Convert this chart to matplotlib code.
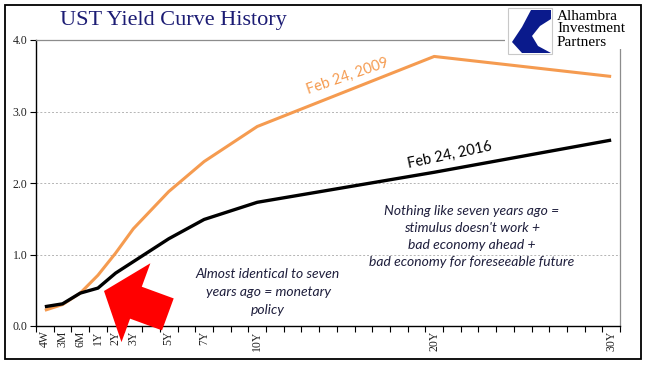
import numpy as np
import matplotlib
matplotlib.use("Agg")
import matplotlib.pyplot as plt
from matplotlib.patches import Rectangle, Polygon
from matplotlib.transforms import Affine2D

# --- data -------------------------------------------------------------------
categories = ["4W", "3M", "6M"] + [f"{y}Y" for y in range(1, 31)]
tenors = ["4W", "3M", "6M", "1Y", "2Y", "3Y", "5Y", "7Y", "10Y", "20Y", "30Y"]
yld_2009 = [0.22, 0.30, 0.46, 0.71, 1.02, 1.36, 1.88, 2.30, 2.79, 3.77, 3.49]
yld_2016 = [0.27, 0.31, 0.46, 0.53, 0.74, 0.90, 1.22, 1.49, 1.73, 2.15, 2.60]
yticks = [0.0, 1.0, 2.0, 3.0, 4.0]

W, H = 652, 381
ORANGE = "#F59B50"
NAVY = "#1c1c74"
NOTE = "#1e1e3c"
SERIF = "Liberation Serif"
SANS = "Lato"

fig = plt.figure(figsize=(W / 100, H / 100), dpi=100)
px = Affine2D().scale(1 / W, -1 / H).translate(0, 1) + fig.transFigure   # pixel coords, y down

ax = fig.add_axes([36 / W, 1 - 326 / H, (620 - 36) / W, (326 - 40) / H])
xpos = [categories.index(t) for t in tenors]
ax.plot(xpos, yld_2009, color=ORANGE, lw=2.2, solid_capstyle="butt", zorder=3)
ax.plot(xpos, yld_2016, color="black", lw=2.4, solid_capstyle="butt", zorder=4)

ax.set_xlim(-0.5, len(categories) - 0.5)
ax.set_ylim(0, 4)

# category axis: tick marks on boundaries, labels at centres
ax.set_xticks(np.arange(-0.5, len(categories)))
ax.set_xticklabels([])
ax.set_xticks(xpos, minor=True)
ax.set_xticklabels(tenors, minor=True, rotation=90, fontfamily=SERIF,
                   fontsize=8.5, color="#222222")
ax.tick_params(axis="x", which="major", direction="out", length=4, width=0.8)
ax.tick_params(axis="x", which="minor", length=0, pad=3)

ax.set_yticks(yticks)
ax.set_yticklabels([f"{v:.1f}" for v in yticks], fontfamily=SERIF,
                   fontsize=8.5, color="#222222")
ax.tick_params(axis="y", direction="out", length=4, width=0.8, pad=2)

for v in yticks[1:-1]:
    ax.axhline(v, color="#b4b4b4", lw=0.7, ls=(0, (2, 2)), zorder=1)

for s in ("left", "bottom"):
    ax.spines[s].set_color("black")
    ax.spines[s].set_linewidth(1.0)
for s in ("top", "right"):
    ax.spines[s].set_color("#8c8c8c")
    ax.spines[s].set_linewidth(0.9)

# --- annotations ---------------------------------------------------------------
fig.text(348 / W, 1 - 76 / H, "Feb 24, 2009", color=ORANGE, fontsize=10.5,
         family=SANS, rotation=19, ha="center", va="center")
fig.text(450 / W, 1 - 155 / H, "Feb 24, 2016", color="black", fontsize=10.5,
         family=SANS, rotation=12, ha="center", va="center")
fig.text(472 / W, 1 - 236 / H,
         "Nothing like seven years ago =\nstimulus doesn't work +\n"
         "bad economy ahead +\nbad economy for foreseeable future",
         color=NOTE, fontsize=10, family=SANS, style="italic",
         ha="center", va="center", linespacing=1.5)
fig.text(268 / W, 1 - 292 / H,
         "Almost identical to seven\nyears ago = monetary\npolicy",
         color=NOTE, fontsize=10, family=SANS, style="italic",
         ha="center", va="center", linespacing=1.6)

# red block arrow pointing at the short end
tip = np.array([104.0, 291.0])
d = np.array([0.939, 0.344])        # from tip towards tail
n = np.array([0.344, -0.939])
base = tip + 34 * d
tail = tip + 68 * d
arrow = [tip, base + 42 * n, base + 17 * n, tail + 17 * n,
         tail - 17 * n, base - 17 * n, base - 42 * n]
fig.add_artist(Polygon(arrow, closed=True, facecolor="#ff0000",
                       edgecolor="none", transform=px, zorder=10))

# --- title & logo ---------------------------------------------------------------
fig.text(60 / W, 1 - 21 / H, "UST Yield Curve History", color=NAVY,
         fontsize=16, family=SERIF, ha="left", va="center")

fig.add_artist(Rectangle((505, 6), 135, 43, facecolor="white",
                         edgecolor="none", transform=px, zorder=5))
fig.add_artist(Rectangle((508, 8), 44, 46, facecolor="white",
                         edgecolor="#c8c8c8", lw=0.8, transform=px, zorder=6))
logo = [(531, 10), (551, 10), (551, 19), (540, 26), (532, 36), (538, 46),
        (551, 53), (522, 53), (512, 42), (522, 27)]
fig.add_artist(Polygon(logo, closed=True, facecolor="#0a1a8c",
                       edgecolor="none", transform=px, zorder=7))
for i, word in enumerate(["Alhambra", "Investment", "Partners"]):
    fig.text(557 / W, 1 - (16 + 13 * i) / H, word, color="black",
             fontsize=11, family=SERIF, ha="left", va="center", zorder=7)

# outer frame
fig.add_artist(Rectangle((5, 5), 636, 354, facecolor="none",
                         edgecolor="black", lw=1.3, transform=px, zorder=11))

fig.savefig("out.png", dpi=100, facecolor="white")
